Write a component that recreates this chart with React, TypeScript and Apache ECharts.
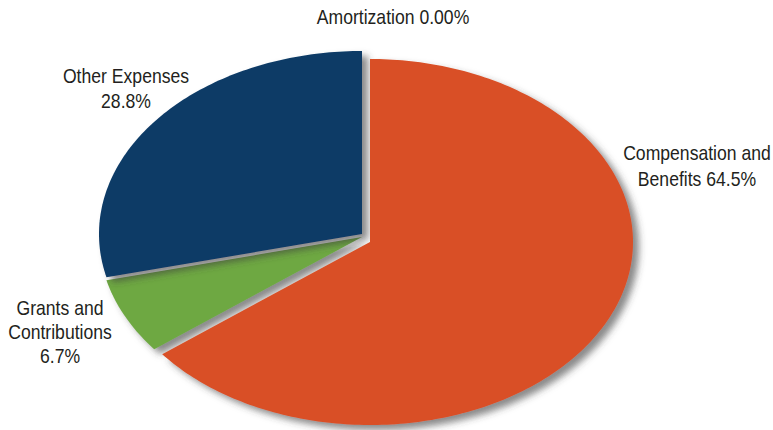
import React, { useEffect, useRef } from "react";
import * as echarts from "echarts";

const categories = ["Compensation and Benefits", "Grants and Contributions", "Other Expenses", "Amortization"];
const shares = [64.5, 6.7, 28.8, 0.0];
const labelTexts = [
  "Compensation and\nBenefits 64.5%",
  "Grants and\nContributions\n6.7%",
  "Other Expenses\n28.8%",
  "Amortization 0.00%",
];

const colors = ["#D95025", "#6EA843", "#0B3A66", "#999999"];
// per-slice explode offsets, label anchors and draw order (layout only)
const sliceOffsets = [[7, 5], [-1, 0], [-1, -3], [0, 0]];
const labelAnchors = [[697, 166], [60, 332], [126, 89], [393, 17]];
const labelLineHeights = [26, 24, 25, 20];
const drawOrder = [3, 1, 2, 0];

export default function App() {
  const ref = useRef<HTMLDivElement>(null);
  useEffect(() => {
    document.body.style.margin = "0";
    const chart = echarts.init(ref.current!, null, { renderer: "svg" });
    const total = shares.reduce((a, b) => a + b, 0);
    const cum: number[] = [];
    let acc = 0;
    shares.forEach((v) => {
      cum.push(acc);
      acc += v;
    });
    const cx0 = 363;
    const cy0 = 237;
    const rx = 263;
    const ry = 183;
    const font = "'Liberation Sans', Arial, sans-serif";

    chart.setOption({
      animation: false,
      backgroundColor: "#ffffff",
      series: [
        {
          type: "custom",
          coordinateSystem: "none",
          data: shares.map((v, i) => ({ name: categories[i], value: v })),
          renderItem: (params: any, api: any) => {
            const i = params.dataIndex;
            const v = api.value(0);
            const a0 = (cum[i] / total) * Math.PI * 2;
            const a1 = ((cum[i] + v) / total) * Math.PI * 2;
            const cx = cx0 + sliceOffsets[i][0];
            const cy = cy0 + sliceOffsets[i][1];
            const children: any[] = [];
            if (v > 0) {
              const pts: number[][] = [[cx, cy]];
              const steps = Math.max(8, Math.ceil(((a1 - a0) / (Math.PI * 2)) * 360));
              for (let k = 0; k <= steps; k++) {
                const t = a0 + ((a1 - a0) * k) / steps;
                pts.push([cx + rx * Math.sin(t), cy - ry * Math.cos(t)]);
              }
              children.push({
                type: "polygon",
                z2: drawOrder[i],
                shape: { points: pts },
                style: {
                  fill: colors[i],
                  shadowColor: "rgba(60,60,60,0.6)",
                  shadowBlur: 7,
                  shadowOffsetX: 6,
                  shadowOffsetY: 5,
                },
              });
            }
            children.push({
              type: "text",
              z2: 10,
              x: labelAnchors[i][0],
              y: labelAnchors[i][1],
              scaleX: 0.88,
              style: {
                text: labelTexts[i],
                x: 0,
                y: 0,
                align: "center",
                verticalAlign: "middle",
                fontSize: 20,
                lineHeight: labelLineHeights[i],
                fontFamily: font,
                fill: "#231F20",
              },
            });
            return { type: "group", children };
          },
        },
      ],
    });
    return () => chart.dispose();
  }, []);
  return <div ref={ref} style={{ width: 773, height: 430 }} />;
}
